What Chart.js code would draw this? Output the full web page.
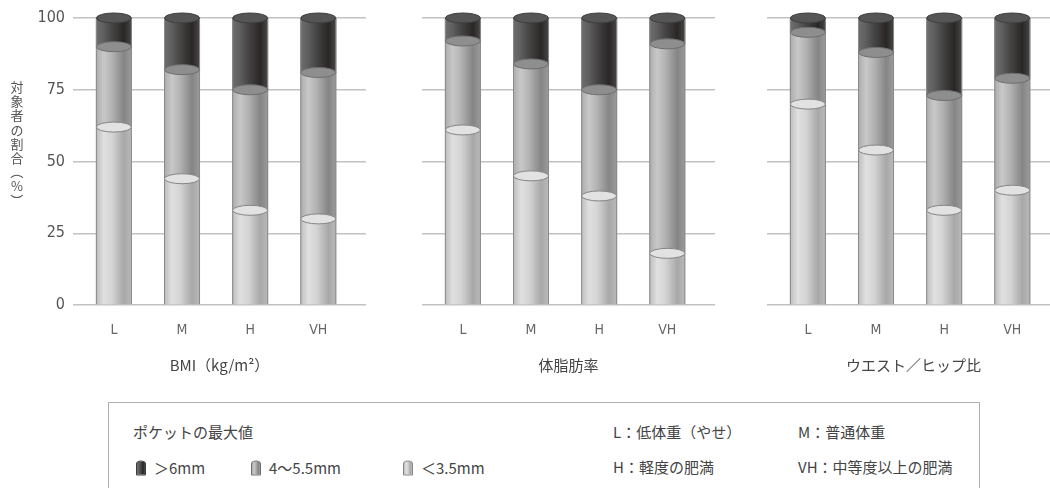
<!DOCTYPE html>
<html>
<head>
<meta charset="utf-8">
<script src="https://cdn.jsdelivr.net/npm/chart.js@4"></script>
<style>
  html, body { margin: 0; padding: 0; background: #fff; overflow: hidden; width: 1050px; height: 488px; }
  canvas { position: absolute; top: 0; }
  #c1 { left: 0; } #c2 { left: 399px; } #c3 { left: 744px; }
  #legend { position: absolute; left: 108px; top: 402px; width: 872px; height: 120px;
            border: 1.5px solid #b0b0b0; box-sizing: border-box; }
  .lt { position: absolute; font: 15px "Noto Sans CJK JP", sans-serif; color: #444; white-space: nowrap;
        line-height: 18px; transform: translateY(-50%); }
  .sw { position: absolute; width: 10px; height: 15px; border: 1px solid #777;
        border-radius: 5px 5px 1px 1px / 3px 3px 1px 1px; box-sizing: border-box; transform: translateY(-50%); }
</style>
</head>
<body>
<canvas id="c1" width="366" height="390"></canvas>
<canvas id="c2" width="316" height="390"></canvas>
<canvas id="c3" width="316" height="390"></canvas>
<div id="legend"></div>
<script>
// values (percent of subjects)
const categories = ['L', 'M', 'H', 'VH'];
const panelTitles = ['BMI（kg/m²）', '体脂肪率', 'ウエスト／ヒップ比'];
const seriesNames = ['＜3.5mm', '4～5.5mm', '＞6mm'];
const yTicks = [0, 25, 50, 75, 100];
const yTitle = '対象者の割合（%）';

const bmiUnder35 = [62, 44, 33, 30];
const bmi4to55   = [28, 38, 42, 51];
const bmiOver6   = [10, 18, 25, 19];

const fatUnder35 = [61, 45, 38, 18];
const fat4to55   = [31, 39, 37, 73];
const fatOver6   = [8, 16, 25, 9];

const whrUnder35 = [70, 54, 33, 40];
const whr4to55   = [25, 34, 40, 39];
const whrOver6   = [5, 12, 27, 21];

const legendNotes = ['L：低体重（やせ）', 'M：普通体重', 'H：軽度の肥満', 'VH：中等度以上の肥満'];
const legendTitle = 'ポケットの最大値';

// cylinder look, bottom segment first
const looks = [
  { stops: ['#bcbcbc', '#e0e0e0', '#d4d4d4', '#a8a8a8', '#bababa'], cap: '#e2e2e2', line: '#858585' },
  { stops: ['#ababab', '#c8c8c8', '#b2b2b2', '#858585', '#9c9c9c'], cap: '#8e8e8e', line: '#6e6e6e' },
  { stops: ['#6e6e6e', '#5e5e5e', '#464444', '#2a2626', '#4a4848'], cap: '#555555', line: '#3e3e3e' }
];

const cylinder = {
  id: 'cylinder',
  afterDatasetsDraw(chart) {
    const ctx = chart.ctx;
    const metas = chart.getSortedVisibleDatasetMetas();
    ctx.save();
    // bodies
    metas.forEach(meta => {
      const lk = looks[meta.index];
      meta.data.forEach(bar => {
        const p = bar.getProps(['x', 'y', 'base', 'width'], true);
        const l = p.x - p.width / 2, r = p.x + p.width / 2;
        const g = ctx.createLinearGradient(l, 0, r, 0);
        const pos = [0, 0.22, 0.45, 0.78, 1];
        lk.stops.forEach((c, i) => g.addColorStop(pos[i], c));
        ctx.fillStyle = g;
        ctx.fillRect(l, p.y, p.width, p.base - p.y);
        ctx.strokeStyle = '#8a8a8a';
        ctx.lineWidth = 1;
        ctx.beginPath();
        ctx.moveTo(l + 0.5, p.y); ctx.lineTo(l + 0.5, p.base);
        ctx.moveTo(r - 0.5, p.y); ctx.lineTo(r - 0.5, p.base);
        ctx.stroke();
      });
    });
    // caps
    metas.forEach(meta => {
      const lk = looks[meta.index];
      meta.data.forEach(bar => {
        const p = bar.getProps(['x', 'y', 'width'], true);
        ctx.beginPath();
        ctx.ellipse(p.x, p.y, p.width / 2 - 0.5, 5, 0, 0, Math.PI * 2);
        ctx.fillStyle = lk.cap;
        ctx.fill();
        ctx.strokeStyle = lk.line;
        ctx.lineWidth = 1;
        ctx.stroke();
      });
    });
    ctx.restore();
  }
};

const vTitle = {
  id: 'vTitle',
  afterDraw(chart, args, opts) {
    if (!opts.text) return;
    const ctx = chart.ctx;
    ctx.save();
    ctx.font = '13px "Noto Sans CJK JP", sans-serif';
    ctx.fillStyle = '#555';
    ctx.textAlign = 'center';
    ctx.textBaseline = 'middle';
    [...opts.text].forEach((c, i) => {
      const y = opts.y0 + i * opts.step;
      if ('（）()'.includes(c)) {
        ctx.save(); ctx.translate(opts.x, y); ctx.rotate(Math.PI / 2); ctx.fillText(c, 0, 0); ctx.restore();
      } else {
        ctx.fillText(c, opts.x, y);
      }
    });
    ctx.restore();
  }
};

const narrow = "'Liberation Sans Narrow', 'DejaVu Sans Condensed', sans-serif";

function makePanel(id, k, under, mid, over) {
  const ds = [under, mid, over].map((vals, i) => ({
    label: seriesNames[i],
    data: vals.map((v, j) => ({ x: j, y: v })),
    backgroundColor: 'rgba(0,0,0,0)',
    borderWidth: 0,
    barThickness: 36
  }));
  return new Chart(document.getElementById(id), {
    type: 'bar',
    data: { datasets: ds },
    plugins: [cylinder, vTitle],
    options: {
      responsive: false,
      animation: false,
      devicePixelRatio: 1,
      layout: { padding: { top: 18, right: 0, bottom: 0, left: 0 } },
      plugins: {
        legend: { display: false },
        tooltip: { enabled: false },
        vTitle: k === 0 ? { text: yTitle, x: 17, y0: 87, step: 14.2 } : {}
      },
      scales: {
        x: {
          type: 'linear', stacked: true, min: -0.6, max: 3.7, offset: false,
          grid: { display: false, offset: false }, border: { display: false },
          afterBuildTicks: s => { s.ticks = categories.map((c, i) => ({ value: i })); },
          afterFit: s => { s.height = 85; },
          ticks: { callback: v => categories[v], color: '#666', padding: 9,
                   font: { family: narrow, size: 14 }, maxRotation: 0, autoSkip: false },
          title: { display: true, text: panelTitles[k], color: '#444',
                   font: { family: "'Noto Sans CJK JP', sans-serif", size: 15 },
                   padding: { top: 0, bottom: 16 } }
        },
        y: {
          stacked: true, min: 0, max: 100,
          afterBuildTicks: s => { s.ticks = yTicks.map(v => ({ value: v })); },
          afterFit: s => { s.width = k === 0 ? 73 : 23; },
          grid: { color: '#c2c2c2', lineWidth: 1.5, drawTicks: false },
          border: { display: false },
          ticks: { display: k === 0, padding: 8, color: '#555', font: { family: narrow, size: 16 } }
        }
      }
    }
  });
}

makePanel('c1', 0, bmiUnder35, bmi4to55, bmiOver6);
makePanel('c2', 1, fatUnder35, fat4to55, fatOver6);
makePanel('c3', 2, whrUnder35, whr4to55, whrOver6);

// legend box (page coords minus box origin 108,402)
const lg = document.getElementById('legend');
function addText(t, x, y) {
  const d = document.createElement('div');
  d.className = 'lt'; d.textContent = t;
  d.style.left = (x - 108) + 'px'; d.style.top = (y - 402) + 'px';
  lg.appendChild(d);
}
function addSwatch(lk, x, y) {
  const d = document.createElement('div');
  d.className = 'sw';
  d.style.left = (x - 108) + 'px'; d.style.top = (y - 402) + 'px';
  d.style.background = 'linear-gradient(to right,' + lk.stops.join(',') + ')';
  d.style.borderColor = lk.line;
  lg.appendChild(d);
}
addText(legendTitle, 132, 431);
[[2, 135, 153], [1, 250, 268], [0, 402, 420]].forEach(([i, sx, tx]) => {
  addSwatch(looks[i], sx, 467);
  addText(seriesNames[i], tx, 467);
});
addText(legendNotes[0], 612, 431);
addText(legendNotes[1], 797, 431);
addText(legendNotes[2], 612, 466);
addText(legendNotes[3], 797, 466);
</script>
</body>
</html>
